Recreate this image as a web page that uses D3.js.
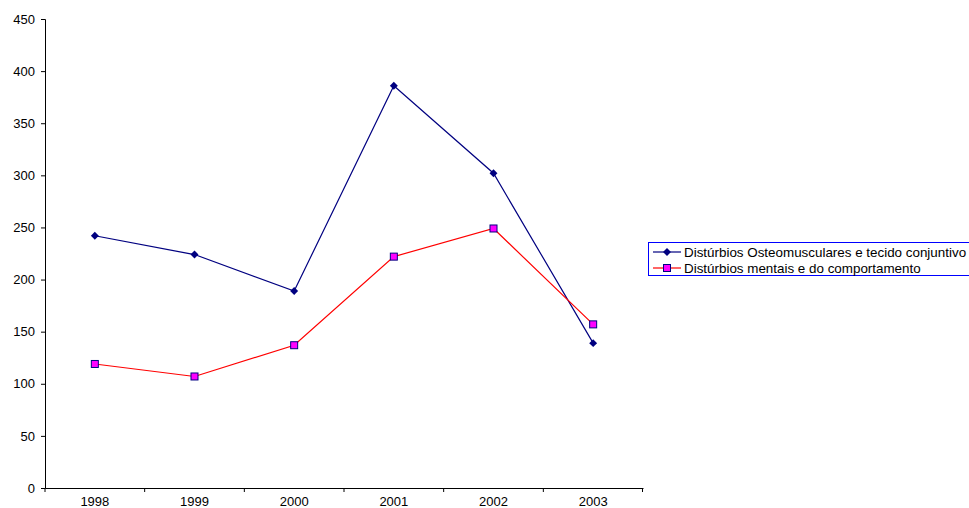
<!DOCTYPE html>
<meta charset="utf-8">
<style>
  body{ margin:0; background:#fff; }
  text{ font-family: "Liberation Sans", Arial, sans-serif; fill:#000; }
</style>
<svg width="969" height="508"></svg>
<script src="https://d3js.org/d3.v7.min.js"></script>
<script>
  // data
  const years = ['1998', '1999', '2000', '2001', '2002', '2003']
  const osteo = [242, 224, 189, 386, 302, 139]
  const mentais = [119, 107, 137, 222, 249, 157]
  const seriesNames = ['Distúrbios Osteomusculares e tecido conjuntivo', 'Distúrbios mentais e do comportamento']
  const yTicks = [0, 50, 100, 150, 200, 250, 300, 350, 400, 450]

  const plot = {left: 45, right: 643, top: 19, bottom: 488}
  const svg = d3.select('svg')

  const x = d3.scaleBand().domain(years).range([plot.left, plot.right])
  const y = d3.scaleLinear().domain([0, 450]).range([plot.bottom, plot.top])

  // y axis
  const yAxis = svg.append('g')
    .attr('transform', 'translate(' + plot.left + ',0)')
    .call(d3.axisLeft(y).tickValues(yTicks).tickSize(4).tickPadding(6))
  yAxis.selectAll('text').style('font-size', '13px')

  // x axis, ticks sit between the categories
  const xAxis = svg.append('g')
    .attr('transform', 'translate(0,' + plot.bottom + ')')
    .call(d3.axisBottom(x).tickSize(0).tickPadding(9))
  xAxis.selectAll('text').style('font-size', '13px')
  xAxis.selectAll('.tick').append('line')
    .attr('x1', -x.bandwidth() / 2).attr('x2', -x.bandwidth() / 2)
    .attr('y1', 0).attr('y2', 4).attr('stroke', '#000')
  xAxis.append('line')
    .attr('x1', plot.right - 0.5).attr('x2', plot.right - 0.5)
    .attr('y1', 0).attr('y2', 4).attr('stroke', '#000')
  svg.selectAll('.domain').attr('stroke', '#000')
  svg.selectAll('.tick line').attr('stroke', '#000')

  const cx = d => x(d) + x.bandwidth() / 2
  const line = d3.line().x((d, i) => cx(years[i])).y(d => y(d))

  // series 1: navy with diamonds
  svg.append('path').datum(osteo)
    .attr('d', line).attr('fill', 'none').attr('stroke', '#000080').attr('stroke-width', 1.2)
  svg.selectAll('.dia').data(osteo).enter().append('path')
    .attr('class', 'dia')
    .attr('d', d3.symbol(d3.symbolDiamond2, 40))
    .attr('transform', (d, i) => 'translate(' + cx(years[i]) + ',' + y(d) + ')')
    .attr('fill', '#000080')

  // series 2: red with magenta squares
  svg.append('path').datum(mentais)
    .attr('d', line).attr('fill', 'none').attr('stroke', '#ff0000').attr('stroke-width', 1.2)
  svg.selectAll('.sq').data(mentais).enter().append('rect')
    .attr('class', 'sq')
    .attr('x', (d, i) => cx(years[i]) - 3.5)
    .attr('y', d => y(d) - 3.5)
    .attr('width', 7).attr('height', 7)
    .attr('fill', '#ff00ff').attr('stroke', '#000080').attr('stroke-width', 1)

  // legend
  const lg = svg.append('g').attr('transform', 'translate(648,242)')
  lg.append('rect').attr('x', 0.5).attr('y', 0.5).attr('width', 330).attr('height', 33)
    .attr('fill', '#fff').attr('stroke', '#0000ff').attr('stroke-width', 1)
  const rows = lg.selectAll('.row').data(seriesNames).enter().append('g')
    .attr('transform', (d, i) => 'translate(0,' + (10 + i * 16) + ')')
  rows.append('line').attr('x1', 5).attr('x2', 33).attr('y1', 0).attr('y2', 0)
    .attr('stroke', (d, i) => i ? '#ff0000' : '#000080').attr('stroke-width', 1.2)
  rows.filter((d, i) => i === 0).append('path')
    .attr('d', d3.symbol(d3.symbolDiamond2, 40)).attr('transform', 'translate(19,0)')
    .attr('fill', '#000080')
  rows.filter((d, i) => i === 1).append('rect')
    .attr('x', 15.5).attr('y', -3.5).attr('width', 7).attr('height', 7)
    .attr('fill', '#ff00ff').attr('stroke', '#000080')
  rows.append('text').attr('x', 36).attr('dy', '0.35em').style('font-size', '13.4px').text(d => d)
</script>
